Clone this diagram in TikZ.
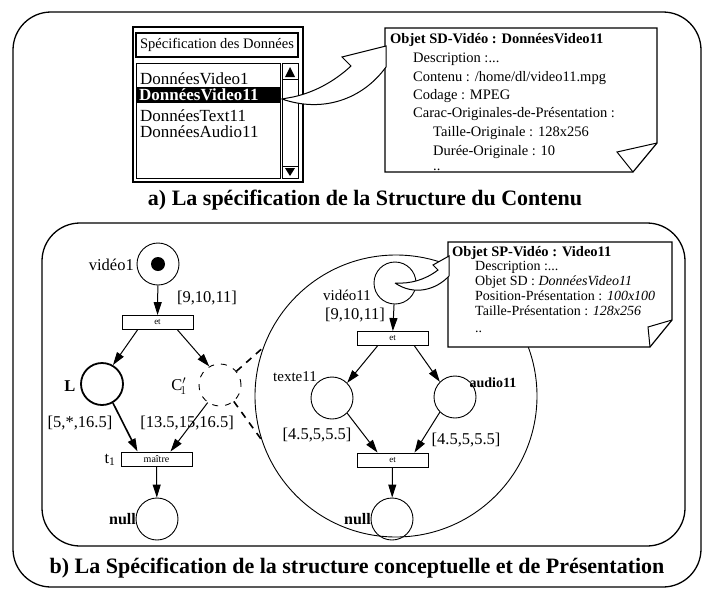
\documentclass[tikz,border=0pt]{standalone}
\usepackage{fontspec}
\setmainfont{Liberation Serif}
\usetikzlibrary{arrows.meta}
\newcommand\fsz[1]{\fontsize{#1}{#1}\selectfont}
\begin{document}
\begin{tikzpicture}[x=1pt,y=-1pt,
  place/.style={circle,draw,minimum size=42pt,inner sep=0pt,line width=0.9pt},
  trans/.style={draw,minimum width=71pt,minimum height=14pt,inner sep=0pt,line width=0.9pt,font=\fsz{9}},
  arr/.style={-{Triangle[length=13pt,width=8pt]},line width=1pt},
  lbl/.style={inner sep=0pt,font=\fsz{16.5}},
  boxtxt/.style={inner sep=0pt,anchor=base west,font=\fsz{14.5}},
  sptxt/.style={inner sep=0pt,anchor=base west,font=\fsz{14}},
  item/.style={inner sep=0pt,anchor=west,font=\fsz{17}},
  frame/.style={line width=1.3pt,rounded corners=38pt},
  captxt/.style={inner sep=0pt,font=\fsz{22}\bfseries}]
\useasboundingbox (0,0) rectangle (702,590);
% frames
\draw[frame] (13,12) rectangle (701,587);
\draw[frame] (42,223) rectangle (685,546);
% ---------- part a
\draw[line width=1.2pt] (133,27) rectangle (303,182);
\node[draw,line width=2pt,minimum width=162pt,minimum height=24pt,inner sep=0pt,font=\fsz{14.5}] (ttl) at (217,45) {Spécification des Données};
\draw[line width=1pt] (136,63) rectangle (280,178);
\draw[line width=1pt] (282,63) rectangle (298,178);
\draw (282,79) -- (298,79) (282,166) -- (298,166);
\fill (290,67) -- (285,77) -- (295,77) -- cycle;
\fill (290,176) -- (285,168) -- (295,168) -- cycle;
\fill (136,87) rectangle (280,103);
\node[item] (i1) at (140,79) {DonnéesVideo1};
\node[item,text=white,font=\fsz{17}\bfseries] (i2) at (139,95) {DonnéesVideo11};
\node[item] (i3) at (140,116) {DonnéesText11};
\node[item] (i4) at (140,132) {DonnéesAudio11};
% SD box
\draw[line width=1.2pt,fill=white] (385,28) -- (657,28) -- (657,143) -- (633,172) -- (385,172) -- cycle;
\draw[line width=1pt] (657,143) -- (617,152) -- (633,172);
\node[boxtxt,font=\fsz{14.5}\bfseries] (sd0) at (390,43) {Objet SD-Vidéo : DonnéesVideo11};
\node[boxtxt] (sd1) at (413,62) {Description :...};
\node[boxtxt] (sd2) at (413,81) {Contenu : /home/dl/video11.mpg};
\node[boxtxt] (sd3) at (413,99) {Codage : MPEG};
\node[boxtxt] (sd4) at (413,117) {Carac-Originales-de-Présentation :};
\node[boxtxt] (sd5) at (433,136) {Taille-Originale : 128x256};
\node[boxtxt] (sd6) at (433,155) {Durée-Originale : 10};
\node[boxtxt] (sd7) at (433,170) {..};
% curved block arrow a
\draw[line width=1pt,fill=white] (282,99) .. controls (322,113) and (362,100) .. (386,67) -- (386,46) -- (342,57) -- (351,66) .. controls (336,80) and (316,92) .. (293,97) -- cycle;
\node[captxt] (capa) at (365,200) {a) La spécification de la Structure du Contenu};
% ---------- part b, left net
\node[place] (v1) at (158,264) {};
\fill (v1.center) circle (7);
\node[lbl,anchor=east] (v1l) at (134,265) {vidéo1};
\node[trans] (t0) at (157.5,322.5) {et};
\node[lbl] (w0) at (207,298) {[9,10,11]};
\node[place,line width=1.8pt] (L) at (102,384) {};
\node[lbl,font=\fsz{16.5}\bfseries] (Ll) at (70,386) {L};
\node[place,dashed,dash pattern=on 6pt off 7pt] (C1) at (220,385) {};
\node[lbl] (C1l) at (179,386) {C$'_{\!1}$};
\node[trans,font=\fsz{10}] (t1) at (156.5,459) {maître};
\node[lbl] (t1l) at (110,460) {t\textsubscript{1}};
\node[lbl] (w1) at (80,423) {[5,*,16.5]};
\node[lbl] (w2) at (187,423) {[13.5,15,16.5]};
\node[place] (n1) at (157,519) {};
\node[lbl,anchor=east,font=\fsz{16}\bfseries] (n1l) at (136,519) {null};
\draw[arr] (v1) -- (t0);
\draw[arr] ([xshift=-20pt]t0.south) -- (L.60);
\draw[arr] ([xshift=20pt]t0.south) -- (C1.120);
\draw[arr,line width=1.6pt] (L.-60) -- ([xshift=-19pt]t1.north);
\draw[arr] (C1.-125) -- ([xshift=14pt]t1.north);
\draw[arr] (t1) -- (n1);
% ---------- big circle
\node[circle,draw,minimum size=282pt,inner sep=0pt,line width=0.9pt] (big) at (396,396) {};
\draw[dashed,line width=1.6pt,dash pattern=on 7pt off 6pt] (C1.40) -- (big.160);
\draw[dashed,line width=1.6pt,dash pattern=on 7pt off 6pt] (C1.-50) -- (big.198);
\node[place] (v11) at (395,283) {};
\node[lbl,font=\fsz{15}] (v11l) at (347,295) {vidéo11};
\node[lbl] (w3) at (355,315) {[9,10,11]};
\node[trans] (t2) at (392.5,338.5) {et};
\node[place] (tx) at (332,398) {};
\node[lbl,font=\fsz{15}] (txl) at (295,377) {texte11};
\node[place] (au) at (455,397) {};
\node[lbl,font=\fsz{14}\bfseries] (aul) at (493,383) {audio11};
\node[lbl] (w4) at (317,435) {[4.5,5,5.5]};
\node[lbl] (w5) at (466,440) {[4.5,5,5.5]};
\node[trans] (t3) at (392.5,460) {et};
\node[place] (n2) at (392,519) {};
\node[lbl,anchor=east,font=\fsz{16}\bfseries] (n2l) at (371,519) {null};
\draw[arr] (v11) -- (t2);
\draw[arr] ([xshift=-15pt]t2.south) -- (tx.45);
\draw[arr] ([xshift=22pt]t2.south) -- (au.135);
\draw[arr] (tx.-45) -- ([xshift=-15pt]t3.north);
\draw[arr] (au.-135) -- ([xshift=22pt]t3.north);
\draw[arr] (t3) -- (n2);
% SP box
\draw[line width=1.2pt,fill=white] (448,242) -- (672,242) -- (672,320) -- (650,347) -- (448,347) -- cycle;
\draw[line width=1pt] (672,320) -- (648,327) -- (650,347);
\node[sptxt,font=\fsz{14.5}\bfseries] (sp0) at (452,256) {Objet SP-Vidéo : Video11};
\node[sptxt] (sp1) at (475,270) {Description :...};
\node[sptxt] (sp2) at (475,285) {Objet SD : \textit{DonnéesVideo11}};
\node[sptxt] (sp3) at (475,300) {Position-Présentation : \textit{100x100}};
\node[sptxt] (sp4) at (475,315) {Taille-Présentation : \textit{128x256}};
\node[sptxt] (sp5) at (475,332) {..};
% curved block arrow b
\draw[line width=1pt,fill=white] (v11.center) .. controls (414,296) and (436,290) .. (449,276) -- (449,256) -- (433,265) -- (438,270) .. controls (425,280) and (410,284) .. (v11.center);
\node[captxt] (capb) at (357,568) {b) La Spécification de la structure conceptuelle et de Présentation};
\end{tikzpicture}
\end{document}
